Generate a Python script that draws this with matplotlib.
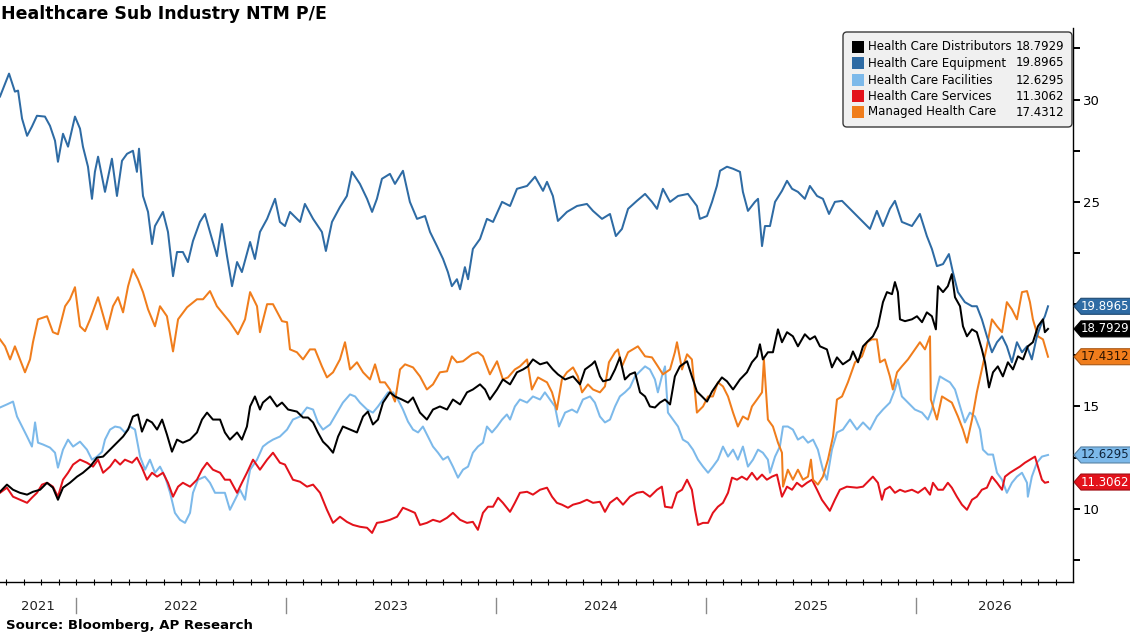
import matplotlib
matplotlib.use("Agg")
import matplotlib.pyplot as plt
import matplotlib.colors as mcolors
from matplotlib.patches import Polygon, FancyBboxPatch, Rectangle
from matplotlib.transforms import IdentityTransform, blended_transform_factory
from matplotlib.ticker import FixedLocator, FuncFormatter

plt.rcParams["font.family"] = "DejaVu Sans"

# ─────────────────────────────────────────────
# Data: time in decimal years, values = NTM P/E
# ─────────────────────────────────────────────

TITLE  = "Healthcare Sub Industry NTM P/E"
SOURCE = "Source: Bloomberg, AP Research"

names  = ["Health Care Distributors", "Health Care Equipment", "Health Care Facilities",
          "Health Care Services", "Managed Health Care"]
colors = ["#000000", "#2e6ba4", "#7cb9ea", "#e3121b", "#f07d1c"]
flag_text = ["white", "white", "#10263d", "white", "#2a1200"]

equip_t = [2021.638, 2021.681, 2021.709, 2021.724, 2021.743, 2021.767, 2021.790, 2021.814, 2021.852, 2021.876,
           2021.900, 2021.914, 2021.938, 2021.962, 2021.995, 2022.019, 2022.033, 2022.057, 2022.076, 2022.090,
           2022.105, 2022.138, 2022.171, 2022.195, 2022.219, 2022.243, 2022.271, 2022.290, 2022.300, 2022.319,
           2022.343, 2022.362, 2022.376, 2022.414, 2022.438, 2022.462, 2022.481, 2022.509, 2022.533, 2022.557,
           2022.590, 2022.614, 2022.638, 2022.671, 2022.695, 2022.719, 2022.743, 2022.767, 2022.790, 2022.829,
           2022.852, 2022.876, 2022.910, 2022.948, 2022.971, 2022.995, 2023.019, 2023.067, 2023.090, 2023.129,
           2023.171, 2023.190, 2023.219, 2023.257, 2023.290, 2023.314, 2023.352, 2023.386, 2023.410, 2023.433,
           2023.457, 2023.495, 2023.519, 2023.557, 2023.590, 2023.624, 2023.662, 2023.686, 2023.719, 2023.748,
           2023.771, 2023.790, 2023.814, 2023.829, 2023.852, 2023.867, 2023.890, 2023.924, 2023.957, 2023.986,
           2024.029, 2024.067, 2024.100, 2024.148, 2024.186, 2024.224, 2024.243, 2024.271, 2024.295, 2024.338,
           2024.386, 2024.433, 2024.462, 2024.505, 2024.543, 2024.571, 2024.600, 2024.629, 2024.671, 2024.710,
           2024.743, 2024.767, 2024.795, 2024.829, 2024.867, 2024.914, 2024.957, 2024.971, 2025.005, 2025.029,
           2025.052, 2025.067, 2025.100, 2025.129, 2025.162, 2025.176, 2025.200, 2025.233, 2025.248, 2025.267,
           2025.281, 2025.305, 2025.329, 2025.362, 2025.386, 2025.410, 2025.438, 2025.471, 2025.495, 2025.529,
           2025.557, 2025.586, 2025.614, 2025.648, 2025.686, 2025.733, 2025.781, 2025.814, 2025.843, 2025.876,
           2025.900, 2025.933, 2025.981, 2026.019, 2026.052, 2026.076, 2026.100, 2026.129, 2026.157, 2026.176,
           2026.200, 2026.233, 2026.267, 2026.290, 2026.314, 2026.338, 2026.362, 2026.386, 2026.410, 2026.433,
           2026.457, 2026.481, 2026.505, 2026.529, 2026.552, 2026.576, 2026.600, 2026.614, 2026.629]
equip_pe = [30.15, 31.27, 30.39, 30.44, 29.07, 28.23, 28.68, 29.21, 29.17, 28.72,
            27.99, 26.96, 28.33, 27.70, 29.17, 28.58, 27.70, 26.72, 25.15, 26.47,
            27.21, 25.49, 27.11, 25.29, 27.01, 27.35, 27.50, 26.47, 27.60, 25.29,
            24.51, 22.94, 23.82, 24.51, 23.53, 21.37, 22.55, 22.55, 22.06, 23.09,
            24.02, 24.41, 23.53, 22.35, 23.92, 22.35, 20.88, 22.06, 21.57, 23.04,
            22.21, 23.53, 24.17, 25.15, 24.02, 23.82, 24.51, 24.02, 24.90, 24.17,
            23.53, 22.60, 24.02, 24.75, 25.29, 26.47, 25.88, 25.15, 24.51, 25.15,
            26.13, 26.37, 25.88, 26.52, 25.00, 24.17, 24.31, 23.53, 22.84, 22.21,
            21.57, 20.88, 21.22, 20.73, 21.81, 21.22, 22.70, 23.19, 24.17, 24.02,
            25.00, 24.80, 25.64, 25.78, 26.23, 25.54, 25.98, 25.29, 24.07, 24.51,
            24.80, 24.90, 24.56, 24.17, 24.41, 23.33, 23.68, 24.66, 25.05, 25.39,
            25.00, 24.66, 25.64, 25.00, 25.29, 25.39, 24.80, 24.17, 24.31, 25.00,
            25.78, 26.52, 26.72, 26.62, 26.47, 25.49, 24.56, 25.00, 25.15, 22.84,
            23.82, 23.82, 25.00, 25.54, 26.03, 25.64, 25.49, 25.15, 25.78, 25.29,
            25.15, 24.41, 25.00, 25.05, 24.66, 24.17, 23.68, 24.56, 23.82, 24.66,
            25.05, 24.02, 23.82, 24.41, 23.33, 22.70, 21.86, 21.96, 22.45, 21.57,
            20.59, 20.10, 19.90, 19.90, 19.26, 18.43, 17.65, 18.14, 18.43, 17.94,
            17.16, 18.14, 17.65, 17.94, 17.30, 18.43, 19.12, 19.41, 19.8965]

managed_t = [2021.638, 2021.662, 2021.686, 2021.709, 2021.733, 2021.757, 2021.781, 2021.795, 2021.819, 2021.862,
             2021.890, 2021.914, 2021.948, 2021.971, 2021.995, 2022.019, 2022.043, 2022.067, 2022.105, 2022.148,
             2022.176, 2022.200, 2022.224, 2022.248, 2022.271, 2022.295, 2022.319, 2022.343, 2022.376, 2022.400,
             2022.433, 2022.462, 2022.486, 2022.529, 2022.576, 2022.605, 2022.638, 2022.671, 2022.695, 2022.733,
             2022.771, 2022.805, 2022.829, 2022.862, 2022.876, 2022.910, 2022.938, 2022.981, 2023.005, 2023.019,
             2023.052, 2023.081, 2023.114, 2023.138, 2023.171, 2023.195, 2023.224, 2023.257, 2023.281, 2023.305,
             2023.338, 2023.367, 2023.400, 2023.424, 2023.448, 2023.471, 2023.495, 2023.519, 2023.543, 2023.567,
             2023.605, 2023.638, 2023.671, 2023.700, 2023.733, 2023.767, 2023.790, 2023.814, 2023.843, 2023.886,
             2023.914, 2023.938, 2023.971, 2024.005, 2024.033, 2024.057, 2024.090, 2024.114, 2024.148, 2024.171,
             2024.200, 2024.243, 2024.267, 2024.290, 2024.314, 2024.338, 2024.367, 2024.390, 2024.410, 2024.438,
             2024.462, 2024.495, 2024.519, 2024.538, 2024.567, 2024.581, 2024.600, 2024.629, 2024.676, 2024.710,
             2024.743, 2024.771, 2024.795, 2024.829, 2024.852, 2024.862, 2024.886, 2024.910, 2024.933, 2024.957,
             2024.986, 2025.010, 2025.033, 2025.057, 2025.081, 2025.105, 2025.129, 2025.152, 2025.176, 2025.200,
             2025.219, 2025.243, 2025.267, 2025.276, 2025.295, 2025.319, 2025.343, 2025.362, 2025.367, 2025.390,
             2025.414, 2025.438, 2025.462, 2025.486, 2025.500, 2025.510, 2025.533, 2025.557, 2025.581, 2025.605,
             2025.624, 2025.648, 2025.676, 2025.710, 2025.743, 2025.767, 2025.790, 2025.814, 2025.829, 2025.852,
             2025.876, 2025.890, 2025.910, 2025.933, 2025.962, 2025.986, 2026.019, 2026.043, 2026.067, 2026.071,
             2026.100, 2026.124, 2026.148, 2026.171, 2026.200, 2026.224, 2026.243, 2026.267, 2026.290, 2026.314,
             2026.338, 2026.362, 2026.386, 2026.410, 2026.433, 2026.457, 2026.481, 2026.505, 2026.529, 2026.543,
             2026.557, 2026.581, 2026.605, 2026.629]
managed_pe = [18.28, 17.94, 17.30, 17.94, 17.30, 16.67, 17.30, 18.14, 19.26, 19.41,
              18.63, 18.53, 19.90, 20.24, 20.83, 18.92, 18.68, 19.26, 20.34, 18.77,
              19.90, 20.34, 19.60, 20.88, 21.71, 21.22, 20.59, 19.75, 18.92, 19.90,
              19.41, 17.69, 19.26, 19.85, 20.24, 20.24, 20.64, 19.90, 19.60, 19.12,
              18.53, 19.26, 20.59, 19.90, 18.63, 20.00, 20.00, 19.17, 19.12, 17.79,
              17.65, 17.30, 17.79, 17.79, 16.96, 16.42, 16.67, 17.30, 18.14, 16.81,
              17.16, 16.67, 16.32, 17.06, 16.18, 16.18, 15.83, 15.24, 16.81, 17.06,
              16.91, 16.47, 15.83, 16.08, 16.67, 16.72, 17.45, 17.16, 17.21, 17.55,
              17.65, 17.45, 16.57, 17.21, 16.32, 16.42, 16.81, 16.96, 17.30, 15.83,
              16.42, 16.18, 15.69, 14.85, 16.32, 16.67, 16.91, 16.47, 15.69, 16.08,
              15.83, 15.69, 15.98, 17.16, 17.65, 17.79, 16.96, 17.65, 17.94, 17.45,
              17.40, 16.96, 16.57, 16.81, 17.65, 18.14, 16.81, 17.55, 17.30, 14.70,
              15.00, 15.49, 15.49, 16.18, 15.98, 15.49, 14.70, 14.02, 14.51, 14.36,
              15.00, 15.34, 15.69, 17.30, 14.36, 14.02, 13.23, 12.74, 11.08, 11.91,
              11.42, 11.91, 11.42, 11.57, 12.40, 11.42, 11.18, 11.57, 12.40, 13.53,
              15.34, 15.49, 16.18, 17.16, 17.45, 18.14, 18.28, 18.28, 17.16, 17.30,
              16.47, 15.83, 16.67, 16.96, 17.30, 17.65, 18.14, 17.79, 18.43, 15.34,
              14.36, 15.49, 15.34, 15.19, 14.51, 13.87, 13.23, 14.36, 15.69, 16.81,
              17.94, 19.26, 18.92, 18.63, 20.10, 19.75, 19.26, 20.59, 20.64, 20.10,
              19.26, 18.43, 18.28, 17.4312]

distrib_t = [2021.638, 2021.671, 2021.700, 2021.733, 2021.767, 2021.795, 2021.829, 2021.862, 2021.890, 2021.914,
             2021.938, 2021.971, 2022.005, 2022.033, 2022.067, 2022.100, 2022.129, 2022.162, 2022.195, 2022.224,
             2022.248, 2022.271, 2022.295, 2022.314, 2022.338, 2022.362, 2022.386, 2022.410, 2022.433, 2022.457,
             2022.481, 2022.509, 2022.543, 2022.576, 2022.600, 2022.624, 2022.652, 2022.686, 2022.709, 2022.733,
             2022.767, 2022.790, 2022.814, 2022.829, 2022.852, 2022.876, 2022.890, 2022.924, 2022.957, 2022.981,
             2023.010, 2023.052, 2023.081, 2023.105, 2023.129, 2023.152, 2023.176, 2023.200, 2023.224, 2023.248,
             2023.271, 2023.305, 2023.338, 2023.367, 2023.390, 2023.414, 2023.438, 2023.462, 2023.495, 2023.519,
             2023.552, 2023.581, 2023.605, 2023.638, 2023.671, 2023.700, 2023.733, 2023.767, 2023.795, 2023.829,
             2023.862, 2023.890, 2023.924, 2023.948, 2023.971, 2024.005, 2024.033, 2024.067, 2024.100, 2024.129,
             2024.152, 2024.176, 2024.210, 2024.243, 2024.271, 2024.295, 2024.329, 2024.367, 2024.400, 2024.424,
             2024.457, 2024.471, 2024.495, 2024.510, 2024.543, 2024.567, 2024.590, 2024.614, 2024.638, 2024.662,
             2024.686, 2024.710, 2024.733, 2024.757, 2024.781, 2024.805, 2024.829, 2024.852, 2024.876, 2024.910,
             2024.933, 2024.957, 2024.981, 2025.005, 2025.029, 2025.052, 2025.076, 2025.100, 2025.129, 2025.162,
             2025.195, 2025.219, 2025.243, 2025.257, 2025.271, 2025.295, 2025.319, 2025.343, 2025.362, 2025.386,
             2025.414, 2025.438, 2025.471, 2025.495, 2025.519, 2025.543, 2025.576, 2025.600, 2025.624, 2025.652,
             2025.686, 2025.700, 2025.724, 2025.748, 2025.771, 2025.795, 2025.819, 2025.843, 2025.862, 2025.886,
             2025.900, 2025.914, 2025.924, 2025.948, 2025.981, 2026.005, 2026.029, 2026.052, 2026.076, 2026.095,
             2026.105, 2026.129, 2026.152, 2026.171, 2026.186, 2026.210, 2026.224, 2026.243, 2026.267, 2026.290,
             2026.314, 2026.329, 2026.348, 2026.367, 2026.390, 2026.414, 2026.438, 2026.462, 2026.486, 2026.510,
             2026.533, 2026.557, 2026.581, 2026.605, 2026.614, 2026.629]
distrib_pe = [10.83, 11.18, 10.93, 10.78, 10.69, 10.83, 10.93, 11.27, 11.03, 10.44,
              11.03, 11.27, 11.57, 11.76, 12.06, 12.50, 12.55, 12.89, 13.23, 13.53,
              13.87, 14.51, 14.61, 13.77, 14.36, 14.22, 13.87, 14.36, 13.63, 12.79,
              13.38, 13.23, 13.38, 13.73, 14.36, 14.70, 14.36, 14.36, 13.73, 13.38,
              13.73, 13.38, 14.02, 15.00, 15.49, 14.85, 15.19, 15.49, 15.00, 15.19,
              14.85, 14.75, 14.46, 14.46, 14.22, 13.73, 13.28, 13.04, 12.74, 13.53,
              14.02, 13.87, 13.73, 14.51, 14.75, 14.12, 14.36, 15.19, 15.69, 15.49,
              15.34, 15.19, 15.44, 14.70, 14.36, 14.85, 15.00, 14.85, 15.34, 15.10,
              15.69, 15.83, 16.08, 15.83, 15.34, 15.83, 16.32, 16.08, 16.67, 16.81,
              16.96, 17.30, 17.06, 17.16, 16.81, 16.57, 16.32, 16.47, 16.08, 16.81,
              17.06, 17.21, 16.47, 16.23, 16.32, 16.81, 17.40, 16.32, 16.57, 16.67,
              15.69, 15.49, 15.00, 14.95, 15.19, 15.34, 15.10, 16.47, 16.96, 17.21,
              16.47, 15.73, 15.49, 15.24, 15.73, 16.08, 16.42, 16.23, 15.83, 16.32,
              16.67, 17.16, 17.45, 18.04, 17.30, 17.65, 17.65, 18.77, 18.14, 18.63,
              18.43, 17.94, 18.53, 18.28, 18.43, 17.94, 17.79, 16.91, 17.40, 17.06,
              17.30, 17.69, 17.16, 17.94, 18.19, 18.43, 18.92, 20.10, 20.59, 20.49,
              21.08, 20.59, 19.26, 19.17, 19.26, 19.41, 19.12, 19.60, 19.41, 18.77,
              20.88, 20.59, 20.88, 21.47, 20.34, 19.90, 18.92, 18.43, 18.77, 18.63,
              17.79, 17.16, 15.93, 16.67, 16.96, 16.47, 17.16, 16.81, 17.45, 17.30,
              17.94, 18.14, 18.92, 19.26, 18.63, 18.7929]

facil_t = [2021.638, 2021.671, 2021.700, 2021.719, 2021.743, 2021.767, 2021.790, 2021.805, 2021.819, 2021.843,
           2021.876, 2021.900, 2021.914, 2021.938, 2021.962, 2021.986, 2022.019, 2022.052, 2022.076, 2022.100,
           2022.124, 2022.138, 2022.162, 2022.186, 2022.210, 2022.233, 2022.257, 2022.281, 2022.305, 2022.329,
           2022.352, 2022.376, 2022.400, 2022.424, 2022.448, 2022.471, 2022.495, 2022.519, 2022.543, 2022.557,
           2022.581, 2022.614, 2022.638, 2022.662, 2022.686, 2022.709, 2022.733, 2022.757, 2022.781, 2022.805,
           2022.814, 2022.829, 2022.862, 2022.890, 2022.914, 2022.938, 2022.971, 2023.005, 2023.033, 2023.067,
           2023.100, 2023.129, 2023.152, 2023.176, 2023.210, 2023.243, 2023.271, 2023.305, 2023.329, 2023.352,
           2023.386, 2023.414, 2023.438, 2023.462, 2023.486, 2023.510, 2023.533, 2023.557, 2023.581, 2023.605,
           2023.629, 2023.652, 2023.676, 2023.700, 2023.724, 2023.748, 2023.771, 2023.795, 2023.819, 2023.843,
           2023.867, 2023.890, 2023.914, 2023.938, 2023.957, 2023.981, 2024.005, 2024.029, 2024.052, 2024.067,
           2024.090, 2024.114, 2024.148, 2024.176, 2024.210, 2024.233, 2024.257, 2024.281, 2024.300, 2024.329,
           2024.362, 2024.386, 2024.414, 2024.448, 2024.471, 2024.495, 2024.519, 2024.543, 2024.567, 2024.590,
           2024.614, 2024.638, 2024.662, 2024.686, 2024.710, 2024.733, 2024.757, 2024.771, 2024.790, 2024.805,
           2024.819, 2024.843, 2024.867, 2024.890, 2024.914, 2024.938, 2024.962, 2024.986, 2025.010, 2025.033,
           2025.057, 2025.081, 2025.105, 2025.129, 2025.152, 2025.176, 2025.200, 2025.224, 2025.248, 2025.271,
           2025.295, 2025.305, 2025.329, 2025.352, 2025.367, 2025.390, 2025.414, 2025.438, 2025.462, 2025.486,
           2025.510, 2025.533, 2025.557, 2025.576, 2025.600, 2025.624, 2025.652, 2025.686, 2025.719, 2025.748,
           2025.781, 2025.814, 2025.843, 2025.876, 2025.900, 2025.914, 2025.933, 2025.962, 2025.995, 2026.029,
           2026.057, 2026.076, 2026.090, 2026.114, 2026.138, 2026.162, 2026.186, 2026.210, 2026.233, 2026.257,
           2026.281, 2026.305, 2026.319, 2026.343, 2026.367, 2026.386, 2026.410, 2026.433, 2026.457, 2026.481,
           2026.505, 2026.529, 2026.533, 2026.552, 2026.576, 2026.600, 2026.629]
facil_pe = [14.95, 15.10, 15.24, 14.51, 14.02, 13.53, 13.04, 14.22, 13.23, 13.14,
            12.99, 12.74, 12.01, 12.89, 13.38, 13.04, 13.28, 12.89, 12.40, 12.55,
            12.79, 13.38, 13.87, 14.02, 13.97, 13.73, 14.02, 13.87, 12.55, 11.91,
            12.40, 11.76, 12.06, 11.57, 10.78, 9.80, 9.46, 9.31, 9.80, 10.78,
            11.42, 11.57, 11.27, 10.78, 10.78, 10.78, 9.95, 10.44, 10.93, 10.44,
            11.08, 11.91, 12.40, 13.04, 13.23, 13.38, 13.53, 13.87, 14.36, 14.51,
            14.95, 14.85, 14.22, 13.87, 14.12, 14.70, 15.19, 15.59, 15.49, 15.19,
            14.85, 14.70, 15.00, 15.34, 15.69, 15.69, 15.34, 14.85, 14.26, 13.87,
            13.73, 14.02, 13.53, 13.04, 12.74, 12.40, 12.55, 12.06, 11.52, 11.91,
            12.06, 12.74, 13.04, 13.23, 14.02, 13.73, 14.02, 14.36, 14.61, 14.36,
            15.00, 15.34, 15.19, 15.49, 15.34, 15.69, 15.34, 15.00, 14.02, 14.70,
            14.85, 14.70, 15.34, 15.49, 15.19, 14.51, 14.22, 14.36, 15.00, 15.49,
            15.69, 15.93, 16.47, 16.72, 16.96, 16.81, 16.32, 15.69, 16.47, 16.96,
            14.70, 14.36, 14.02, 13.38, 13.23, 12.89, 12.40, 12.06, 11.76, 12.06,
            12.40, 13.04, 12.55, 12.89, 12.40, 13.04, 12.06, 12.40, 12.89, 12.74,
            12.40, 11.76, 12.55, 13.04, 14.02, 14.02, 13.87, 13.38, 13.53, 13.23,
            13.38, 12.89, 11.91, 11.42, 12.89, 13.73, 13.87, 14.36, 13.87, 14.22,
            13.87, 14.51, 14.85, 15.19, 15.83, 16.32, 15.49, 15.19, 14.85, 14.70,
            14.36, 14.85, 15.49, 16.47, 16.32, 16.18, 15.83, 15.00, 14.22, 14.70,
            14.51, 13.87, 12.89, 12.65, 12.65, 11.76, 11.42, 10.78, 11.27, 11.57,
            11.76, 11.27, 10.59, 11.57, 12.25, 12.55, 12.6295]

serv_t = [2021.638, 2021.671, 2021.700, 2021.733, 2021.767, 2021.790, 2021.814, 2021.838, 2021.862, 2021.890,
          2021.914, 2021.938, 2021.962, 2021.986, 2022.019, 2022.052, 2022.081, 2022.105, 2022.129, 2022.162,
          2022.186, 2022.210, 2022.233, 2022.267, 2022.290, 2022.314, 2022.338, 2022.362, 2022.386, 2022.414,
          2022.438, 2022.462, 2022.486, 2022.509, 2022.543, 2022.576, 2022.600, 2022.624, 2022.652, 2022.686,
          2022.709, 2022.733, 2022.767, 2022.790, 2022.814, 2022.843, 2022.876, 2022.910, 2022.938, 2022.971,
          2022.995, 2023.033, 2023.067, 2023.100, 2023.129, 2023.162, 2023.195, 2023.224, 2023.257, 2023.290,
          2023.319, 2023.352, 2023.386, 2023.410, 2023.433, 2023.462, 2023.495, 2023.529, 2023.557, 2023.581,
          2023.614, 2023.638, 2023.671, 2023.700, 2023.733, 2023.767, 2023.795, 2023.829, 2023.862, 2023.890,
          2023.914, 2023.938, 2023.962, 2023.986, 2024.010, 2024.033, 2024.067, 2024.090, 2024.114, 2024.148,
          2024.176, 2024.210, 2024.243, 2024.267, 2024.290, 2024.314, 2024.343, 2024.367, 2024.400, 2024.433,
          2024.462, 2024.495, 2024.519, 2024.543, 2024.576, 2024.605, 2024.638, 2024.671, 2024.700, 2024.733,
          2024.767, 2024.790, 2024.805, 2024.838, 2024.862, 2024.886, 2024.910, 2024.933, 2024.948, 2024.962,
          2024.986, 2025.010, 2025.033, 2025.057, 2025.081, 2025.105, 2025.124, 2025.148, 2025.171, 2025.195,
          2025.219, 2025.243, 2025.267, 2025.290, 2025.314, 2025.338, 2025.362, 2025.386, 2025.410, 2025.433,
          2025.457, 2025.481, 2025.505, 2025.529, 2025.552, 2025.576, 2025.590, 2025.614, 2025.638, 2025.671,
          2025.719, 2025.748, 2025.771, 2025.795, 2025.819, 2025.838, 2025.852, 2025.876, 2025.900, 2025.924,
          2025.948, 2025.981, 2026.010, 2026.043, 2026.067, 2026.081, 2026.105, 2026.129, 2026.152, 2026.171,
          2026.195, 2026.219, 2026.243, 2026.267, 2026.290, 2026.314, 2026.338, 2026.362, 2026.386, 2026.410,
          2026.424, 2026.448, 2026.471, 2026.495, 2026.519, 2026.543, 2026.567, 2026.581, 2026.600, 2026.614,
          2026.629]
serv_pe = [10.78, 11.03, 10.59, 10.44, 10.29, 10.54, 10.78, 11.18, 11.27, 11.08,
           10.59, 11.42, 11.76, 12.16, 12.40, 12.25, 12.06, 12.40, 11.76, 12.06,
           12.40, 12.16, 12.40, 12.25, 12.50, 12.01, 11.42, 11.76, 11.57, 11.76,
           11.27, 10.59, 11.08, 11.27, 11.08, 11.42, 11.91, 12.25, 11.91, 11.76,
           11.42, 11.42, 10.78, 11.27, 11.76, 12.40, 11.91, 12.40, 12.74, 12.25,
           12.16, 11.42, 11.32, 11.08, 11.18, 10.78, 9.95, 9.31, 9.61, 9.36,
           9.21, 9.12, 9.07, 8.82, 9.31, 9.36, 9.46, 9.61, 10.05, 9.95,
           9.80, 9.21, 9.31, 9.46, 9.36, 9.56, 9.80, 9.46, 9.31, 9.36,
           8.97, 9.80, 10.10, 10.10, 10.54, 10.29, 9.85, 10.29, 10.78, 10.83,
           10.69, 10.93, 11.03, 10.59, 10.29, 10.20, 10.05, 10.20, 10.29, 10.44,
           10.29, 10.34, 9.85, 10.29, 10.54, 10.20, 10.59, 10.78, 10.83, 10.59,
           10.93, 11.08, 10.10, 10.05, 10.78, 10.93, 11.42, 10.93, 9.95, 9.21,
           9.31, 9.31, 9.80, 10.10, 10.29, 10.78, 11.52, 11.42, 11.57, 11.42,
           11.76, 11.42, 11.67, 11.42, 11.57, 11.67, 10.59, 11.08, 10.93, 11.27,
           11.08, 11.27, 11.42, 10.93, 10.44, 10.10, 9.90, 10.44, 10.93, 11.08,
           11.03, 11.08, 11.32, 11.57, 11.27, 10.44, 10.93, 11.08, 10.78, 10.93,
           10.83, 10.93, 10.78, 11.03, 10.69, 11.27, 10.93, 10.93, 11.27, 11.03,
           10.59, 10.20, 9.95, 10.44, 10.59, 10.93, 11.03, 11.57, 11.27, 10.93,
           11.57, 11.76, 11.91, 12.06, 12.25, 12.40, 12.55, 12.06, 11.42, 11.27,
           11.3062]

series_t  = [distrib_t, equip_t, facil_t, serv_t, managed_t]
series_pe = [distrib_pe, equip_pe, facil_pe, serv_pe, managed_pe]

X_START, X_END = 2021.638, 2026.748
Y_MIN, Y_MAX = 6.42, 33.5
YEARS = [2021, 2022, 2023, 2024, 2025, 2026]

# ─────────────────────────────────────────────
# Figure
# ─────────────────────────────────────────────

W, H = 1130, 637
fig = plt.figure(figsize=(W / 100, H / 100), dpi=100)
ax = fig.add_axes([0, 1 - 582 / H, 1073 / W, (582 - 28) / H])

draw_order = [2, 3, 4, 1, 0]   # black drawn last (on top)
for i in draw_order:
    ax.plot(series_t[i], series_pe[i], color=colors[i], lw=1.45, solid_joinstyle="round")

ax.set_xlim(X_START, X_END)
ax.set_ylim(Y_MIN, Y_MAX)

for s in ("left", "top"):
    ax.spines[s].set_visible(False)
ax.spines["right"].set_linewidth(1.0)
ax.spines["bottom"].set_linewidth(1.0)

# right-hand y axis: ticks every 2.5, labels at multiples of 5 unless a value flag sits there
last_vals = [pe[-1] for pe in series_pe]
ax.yaxis.tick_right()
ax.yaxis.set_major_locator(FixedLocator([7.5 + 2.5 * k for k in range(11)]))

def ylab(v, pos):
    if abs(v % 5) > 1e-6:
        return ""
    if any(abs(v - lv) < 0.6 for lv in last_vals):
        return ""
    return f"{v:.0f}"

ax.yaxis.set_major_formatter(FuncFormatter(ylab))
ax.tick_params(axis="y", direction="out", length=5, width=1.4, labelsize=9.5, pad=2)

# bottom axis: monthly ticks, year labels centred in each visible year
ax.set_xticks([])
months = [y + m / 12 for y in range(2021, 2027) for m in range(12)]
ax.set_xticks([m for m in months if X_START <= m <= X_END], minor=True)
ax.tick_params(axis="x", which="minor", direction="inout", length=5, width=0.8)

bt = blended_transform_factory(ax.transData, ax.transAxes)
ax_h = 582 - 28
for y in YEARS:
    lo, hi = max(y, X_START), min(y + 1, X_END)
    ax.text((lo + hi) / 2, -24 / ax_h, str(y), transform=bt, ha="center", va="center",
            fontsize=9.5, color="#222222")
    if y > X_START:
        ax.plot([y, y], [-16 / ax_h, -31 / ax_h], transform=bt, clip_on=False,
                color="#8a8a8a", lw=1.0)

# title and source
fig.text(1 / W, 1 - 14 / H, TITLE, fontsize=12.5, fontweight="bold", va="center", ha="left")
fig.text(6 / W, 1 - 625 / H, SOURCE, fontsize=9.5, fontweight="bold", va="center", ha="left")

# value flags on the right axis
for i, v in enumerate(last_vals):
    yd = ax.transData.transform((X_END, v))[1]
    xd = 1074
    edge = tuple(c * 0.7 for c in mcolors.to_rgb(colors[i]))
    poly = Polygon([(xd, yd), (xd + 7, yd + 8), (W + 2, yd + 8), (W + 2, yd - 8), (xd + 7, yd - 8)],
                   closed=True, transform=IdentityTransform(), facecolor=colors[i],
                   edgecolor=edge, lw=0.8, zorder=5)
    fig.add_artist(poly)
    fig.text(1105 / W, yd / H, f"{v:.4f}", ha="center", va="center", fontsize=8.5,
             color=flag_text[i], zorder=6)

# legend box
bx0, bx1, by0, by1 = 843, 1072, H - 127, H - 32
fig.add_artist(FancyBboxPatch((bx0, by0), bx1 - bx0, by1 - by0,
                              boxstyle="round,pad=0,rounding_size=4",
                              transform=IdentityTransform(), facecolor="#f0f0f0",
                              edgecolor="#3a3a3a", lw=1.0, zorder=5))
row_y = [47, 63, 80, 96, 112]
for i, ry in enumerate(row_y):
    yd = H - ry
    fig.add_artist(Rectangle((852, yd - 6), 12, 12, transform=IdentityTransform(),
                             facecolor=colors[i], edgecolor="none", zorder=6))
    fig.text(868 / W, yd / H, names[i], ha="left", va="center", fontsize=8.5, zorder=7)
    fig.text(1064 / W, yd / H, f"{last_vals[i]:.4f}", ha="right", va="center",
             fontsize=8.5, zorder=7)

fig.savefig("out.png", dpi=100)
